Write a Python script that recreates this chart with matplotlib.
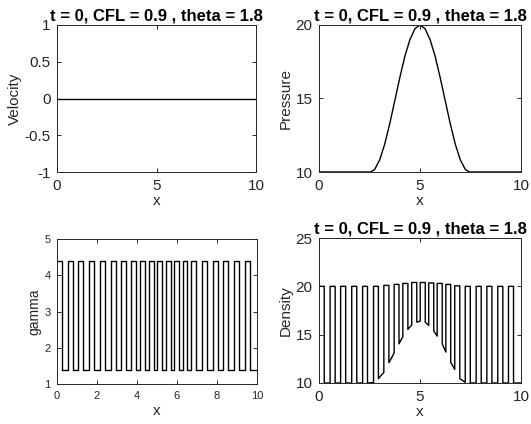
import matplotlib
matplotlib.use("Agg")
import matplotlib.pyplot as plt

plt.rcParams['font.family'] = ['Liberation Sans', 'DejaVu Sans']

title_txt = "t = 0, CFL = 0.9 , theta = 1.8"

# Velocity (zero everywhere)
vel_x = [0, 10]
vel_y = [0, 0]

# Pressure bump
p_x = [0, 2.55, 2.75, 3.0, 3.25, 3.5, 3.75, 4.0, 4.25, 4.5, 4.75, 5.0,
       5.25, 5.5, 5.75, 6.0, 6.25, 6.5, 6.75, 7.0, 7.25, 7.45, 10]
p_y = [10, 10, 10.16, 10.81, 11.88, 13.27, 14.84, 16.42, 17.87, 19.0, 19.75, 20.0,
       19.75, 19.0, 17.87, 16.42, 14.84, 13.27, 11.88, 10.81, 10.16, 10, 10]

# Cells with high gamma: left and right interfaces
hi_left = [0.0, 0.55, 1.07, 1.62, 2.16, 2.70, 3.21, 3.72, 4.15, 4.59,
           5.01, 5.43, 5.85, 6.28, 6.72, 7.24, 7.78, 8.31, 8.85, 9.38]
hi_right = [0.26, 0.80, 1.32, 1.87, 2.40, 2.94, 3.46, 3.96, 4.40, 4.84,
            5.26, 5.68, 6.10, 6.52, 6.97, 7.49, 8.03, 8.56, 9.10, 9.63]
gamma_hi = 4.4
gamma_lo = 1.4

# Density in high-gamma cells
rho_hi = [20, 20, 20, 20, 20, 20, 20.1, 20.2, 20.3, 20.4,
          20.4, 20.35, 20.3, 20.2, 20.05, 20, 20, 20, 20, 20]
# Density in low-gamma cells following each high cell (start, end)
rho_lo_start = [10, 10, 10, 10, 10, 10.45, 12.1, 14.05, 15.55, 16.3,
                16.3, 15.4, 14.05, 12.15, 10.45, 10, 10, 10, 10, 10]
rho_lo_end = [10, 10, 10, 10, 10.05, 11.1, 13.1, 14.8, 16.0, 16.4,
              15.95, 14.85, 13.2, 11.4, 10.07, 10, 10, 10, 10, 10]

x_end = 10.0

# Build polylines
g_x, g_y, d_x, d_y = [], [], [], []
for i in range(len(hi_left)):
    nxt = hi_left[i + 1] if i + 1 < len(hi_left) else x_end
    g_x += [hi_left[i], hi_right[i], hi_right[i], nxt]
    g_y += [gamma_hi, gamma_hi, gamma_lo, gamma_lo]
    d_x += [hi_left[i], hi_right[i], hi_right[i], nxt]
    d_y += [rho_hi[i], rho_hi[i], rho_lo_start[i], rho_lo_end[i]]

fig = plt.figure(figsize=(5.31, 4.24), dpi=100)
W, H = 531, 424

def add_ax(l, t, r, b):
    return fig.add_axes([l / W, 1 - b / H, (r - l) / W, (b - t) / H])

axes_c = '0.15'

def style(ax, fs):
    for s in ax.spines.values():
        s.set_color(axes_c)
        s.set_linewidth(0.7)
    ax.tick_params(direction='in', top=True, right=True, length=3, width=0.7,
                   colors=axes_c, labelsize=fs)
    ax.tick_params(axis='x', pad=5)
    ax.tick_params(axis='y', pad=4.5)

ax1 = add_ax(57, 25, 256, 172)
ax1.plot(vel_x, vel_y, color='k', lw=1.0)
ax1.set_xlim(0, 10); ax1.set_ylim(-1, 1)
ax1.set_xticks([0, 5, 10]); ax1.set_yticks([-1, -0.5, 0, 0.5, 1])
ax1.set_yticklabels(['-1', '-0.5', '0', '0.5', '1'])
ax1.set_xlabel('x', fontsize=11, color=axes_c, labelpad=1)
ax1.set_ylabel('Velocity', fontsize=11, color=axes_c, labelpad=2)
ax1.set_title(title_txt, fontsize=12, fontweight='bold', pad=3)
style(ax1, 11)

ax2 = add_ax(319, 25, 521, 172)
ax2.plot(p_x, p_y, color='k', lw=1.0)
ax2.set_xlim(0, 10); ax2.set_ylim(10, 20)
ax2.set_xticks([0, 5, 10]); ax2.set_yticks([10, 15, 20])
ax2.set_xlabel('x', fontsize=11, color=axes_c, labelpad=1)
ax2.set_ylabel('Pressure', fontsize=11, color=axes_c, labelpad=2)
ax2.set_title(title_txt, fontsize=12, fontweight='bold', pad=3)
style(ax2, 11)

ax3 = add_ax(57, 239, 257, 384)
ax3.plot(g_x, g_y, color='k', lw=1.0)
ax3.set_xlim(0, 10); ax3.set_ylim(1, 5)
ax3.set_xticks([0, 2, 4, 6, 8, 10]); ax3.set_yticks([1, 2, 3, 4, 5])
ax3.set_xlabel('x', fontsize=11, color=axes_c, labelpad=2)
ax3.set_ylabel('gamma', fontsize=10, color=axes_c, labelpad=2)
style(ax3, 8)

ax4 = add_ax(319, 238, 521, 383)
ax4.plot(d_x, d_y, color='k', lw=1.0)
ax4.set_xlim(0, 10); ax4.set_ylim(10, 25)
ax4.set_xticks([0, 5, 10]); ax4.set_yticks([10, 15, 20, 25])
ax4.set_xlabel('x', fontsize=11, color=axes_c, labelpad=1)
ax4.set_ylabel('Density', fontsize=11, color=axes_c, labelpad=2)
ax4.set_title(title_txt, fontsize=12, fontweight='bold', pad=3)
style(ax4, 11)

fig.savefig('out.png', dpi=100)
